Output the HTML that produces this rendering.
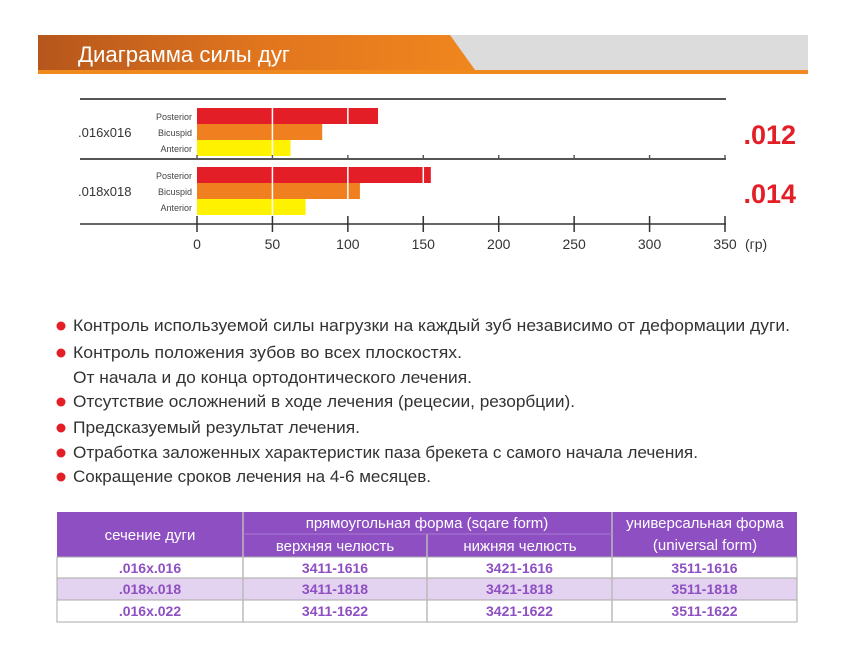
<!DOCTYPE html>
<html><head><meta charset="utf-8"><style>
body{margin:0;background:#fff;width:856px;height:667px;overflow:hidden}
svg{display:block}
text{font-family:"Liberation Sans","Noto Sans CJK SC",sans-serif}
</style></head><body>
<svg id="c" width="856" height="667" viewBox="0 0 856 667">
<defs>
<linearGradient id="og" x1="0" x2="1"><stop offset="0" stop-color="#b5561c"/><stop offset="0.5" stop-color="#e0751e"/><stop offset="1" stop-color="#f0861e"/></linearGradient>
</defs>
<g>
<rect x="38" y="35" width="770" height="38" fill="#dcdcdc"/>
<polygon points="38,35 450,35 475,70 38,70" fill="url(#og)"/>
<rect x="38" y="70" width="770" height="4" fill="#f08a1e"/>
<text x="78" y="62" font-size="22" fill="#fff" textLength="212" lengthAdjust="spacingAndGlyphs">Диаграмма силы дуг</text>
</g>
<g id="chart"></g>
<g id="bullets"></g>
<g id="table"></g>
</svg>
<script>
const ns="http://www.w3.org/2000/svg";
const groups=[".016x016",".018x018"];
const wireLabels=[".012",".014"];
const teeth=["Posterior","Bicuspid","Anterior"];
const forces016=[120,83,62];
const forces018=[155,108,72];
const ticks=[0,50,100,150,200,250,300,350];
const colors=["#e31e26","#ef7f1f","#fff200"];
function mk(tag,at,par,txt){const e=document.createElementNS(ns,tag);for(const k in at)e.setAttribute(k,at[k]);if(txt!==undefined)e.textContent=txt;par.appendChild(e);return e;}
const x=v=>197+v*(725-197)/350;
const ch=document.getElementById('chart');
const series=[forces016,forces018];
const gTop=[108,167];
let l=mk('line',{x1:80,x2:726,y1:99,y2:99,stroke:'#555','stroke-width':2},ch);

l=mk('line',{x1:80,x2:726,y1:159,y2:159,stroke:'#555','stroke-width':2},ch);

l=mk('line',{x1:80,x2:726,y1:224,y2:224,stroke:'#333','stroke-width':1.5},ch);

groups.forEach((g,gi)=>{
  let t=mk('text',{x:78,y:gTop[gi]+29,'font-size':13,fill:'#333'},ch,g);
  
  t=mk('text',{x:796,y:gTop[gi]+36,'font-size':27,'font-weight':'bold',fill:'#e31e26','text-anchor':'end'},ch,wireLabels[gi]);
  
  teeth.forEach((tn,i)=>{
    const y=gTop[gi]+i*16;
    const r=mk('rect',{x:x(0),y:y,width:x(series[gi][i])-x(0),height:16,fill:colors[i]},ch);
    
    const tl=mk('text',{x:192,y:y+12,'font-size':9,fill:'#444','text-anchor':'end'},ch,tn);
    
  });
  [50,100,150].forEach(v=>{ if(v<series[gi][0]){const gl=mk('line',{x1:x(v),x2:x(v),y1:gTop[gi],y2:gTop[gi]+48,stroke:'#fff','stroke-width':1.5},ch);
    }});
});
ticks.forEach(v=>{
  let tk=mk('line',{x1:x(v),x2:x(v),y1:216,y2:232,stroke:'#333','stroke-width':1.5},ch);
  
  let d=mk('rect',{x:x(v)-0.7,y:155,width:1.4,height:3,fill:'#555'},ch);
  
  let t=mk('text',{x:x(v),y:249,'font-size':14,fill:'#333','text-anchor':'middle'},ch,String(v));
  
});
let u=mk('text',{x:745,y:249,'font-size':14,fill:'#333'},ch,'(гр)');


const bl=document.getElementById('bullets');
const items=[["Контроль используемой силы нагрузки на каждый зуб независимо от деформации дуги.",325,790,1],
["Контроль положения зубов во всех плоскостях.",352,462,1],
["От начала и до конца ортодонтического лечения.",377,472,0],
["Отсутствие осложнений в ходе лечения (рецесии, резорбции).",401,575,1],
["Предсказуемый результат лечения.",427,360,1],
["Отработка заложенных характеристик паза брекета с самого начала лечения.",452,698,1],
["Сокращение сроков лечения на 4-6 месяцев.",476,431,1]];
items.forEach(it=>{
  if(it[3]){const c=mk('circle',{cx:61,cy:it[1]+1,r:4.5,fill:'#e31e26'},bl);
  }
  const t=mk('text',{x:73,y:it[1]+6,'font-size':17,fill:'#333',textLength:it[2]-73,lengthAdjust:'spacingAndGlyphs'},bl,it[0]);
  
});

const tb=document.getElementById('table');
const P='#8e4fc2';
mk('rect',{x:57,y:512,width:740,height:45,fill:P},tb);
const rowsY=[557,578,600,622];
const rowFill=['#fff','#e3d3f0','#fff'];
for(let i=0;i<3;i++){const r=mk('rect',{x:57,y:rowsY[i],width:740,height:rowsY[i+1]-rowsY[i],fill:rowFill[i],stroke:'#aaa','stroke-width':1},tb);
 }
const cols=[57,243,427,612,797];
[243,612].forEach(xx=>mk('line',{x1:xx,x2:xx,y1:512,y2:622,stroke:'#bbb','stroke-width':1.5},tb));
mk('line',{x1:427,x2:427,y1:534,y2:622,stroke:'#bbb','stroke-width':1.5},tb);
mk('line',{x1:243,x2:612,y1:534,y2:534,stroke:'#a77ad0','stroke-width':1},tb);
function ht(s,xx,y,sz,fill,bold){const t=mk('text',{x:xx,y:y,'font-size':sz,fill:fill,'text-anchor':'middle','font-weight':bold?'bold':'normal'},tb,s);
 }
ht('сечение дуги',150,540,15,'#fff');
ht('прямоугольная форма (sqare form)',427,528,15,'#fff');
ht('верхняя челюсть',335,551,15,'#fff');
ht('нижняя челюсть',520,551,15,'#fff');
ht('универсальная форма',705,528,15,'#fff');
ht('(universal form)',705,550,15,'#fff');
const data=[[".016x.016","3411-1616","3421-1616","3511-1616"],[".018x.018","3411-1818","3421-1818","3511-1818"],[".016x.022","3411-1622","3421-1622","3511-1622"]];
data.forEach((r,i)=>r.forEach((s,j)=>ht(s,(cols[j]+cols[j+1])/2,rowsY[i]+16,14,P,true)));
</script>
</body></html>
